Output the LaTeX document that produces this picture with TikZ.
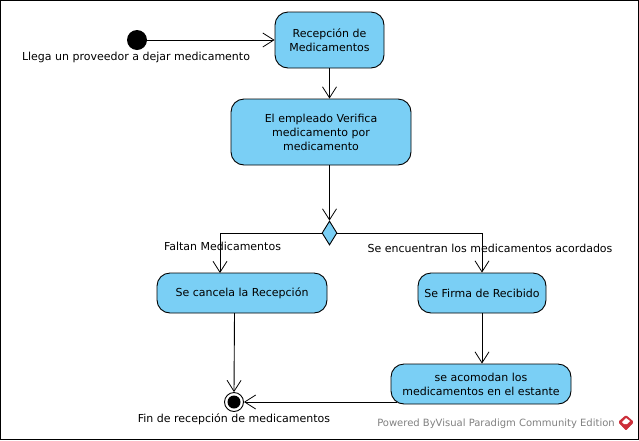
\documentclass[tikz,border=0pt]{standalone}
\usepackage{fontspec}
\setmainfont{DejaVu Sans}
\usetikzlibrary{arrows.meta}
\usetikzlibrary{shapes.geometric}
\definecolor{actblue}{HTML}{7ACFF5}
\definecolor{logored}{HTML}{CC2F3A}
\tikzset{
    action/.style = {draw, fill=actblue, rounded corners=13pt, align=center, inner sep=0pt, line width=0.9pt, font=\fontsize{11}{14}\selectfont},
    flow/.style = {draw, line width=0.9pt, -{Straight Barb[length=11pt,width=14pt,line width=0.8pt]}},
    label/.style = {font=\fontsize{11}{14}\selectfont, inner sep=0pt}
}
\begin{document}
\begin{tikzpicture}[x=1pt,y=-1pt]
\useasboundingbox (0,0) rectangle (639,440);
\draw [line width=1.6pt] (0.5,0.5) rectangle (638.5,439.5);
\node [circle, fill=black, minimum size=20pt, inner sep=0pt] (start) at (137,40) {};
\node [action, minimum width=109pt, minimum height=56pt] (recepcion) at (329.5,40) {Recepción de\\Medicamentos};
\node [action, minimum width=180pt, minimum height=66pt] (verifica) at (321,132) {El empleado Verifica\\medicamento por\\medicamento};
\node [diamond, draw, fill=actblue, line width=0.9pt, minimum width=15pt, minimum height=24pt, inner sep=0pt] (decision) at (329.5,233) {};
\node [action, minimum width=170pt, minimum height=40pt] (cancela) at (242,293) {Se cancela la Recepción};
\node [action, minimum width=128pt, minimum height=40pt] (firma) at (482,293) {Se Firma de Recibido};
\node [action, minimum width=180pt, minimum height=40pt] (acomodan) at (481,384) {se acomodan los\\medicamentos en el estante};
\node [circle, draw, fill=white, line width=0.9pt, minimum size=19pt, inner sep=0pt] (fin) at (234,402) {};
\node [circle, fill=black, minimum size=13pt, inner sep=0pt] at (fin) {};
\node [label] (llega) at (136,57) {Llega un proveedor a dejar medicamento};
\node [label] (faltan) at (222.5,246) {Faltan Medicamentos};
\node [label] (encuentran) at (490,248) {Se encuentran los medicamentos acordados};
\node [label] (finlabel) at (234,419) {Fin de recepción de medicamentos};
\node [font=\fontsize{10}{12}\selectfont, text=black!50, inner sep=0pt] (powered) at (496,423.5) {Powered ByVisual Paradigm Community Edition};
\coordinate (cancelin) at (220,273);
\coordinate (cancelout) at (234.5,313);
\coordinate (acomodanout) at (397,402);
\draw [flow] (start) -- (recepcion);
\draw [flow] (recepcion) -- (recepcion |- verifica.north);
\draw [flow] (verifica.south -| decision) -- (decision.north);
\draw [flow] (decision.west) -| (cancelin);
\draw [flow] (decision.east) -| (firma.north);
\draw [flow] (cancelout) -- (fin.north);
\draw [flow] (firma) -- (firma |- acomodan.north);
\draw [flow] (acomodanout) -- (fin.east);
% logo
\fill [logored, rounded corners=1.5pt] (626,415) -- (634,422) -- (626,431) -- (618,422) -- cycle;
\fill [white] (626,418) -- (630,421) -- (627,424) -- (624,424) -- (622,422) -- cycle;
\draw [white, line width=0.5pt] (620,425) -- (626,431) -- (632,425);
\end{tikzpicture}
\end{document}
